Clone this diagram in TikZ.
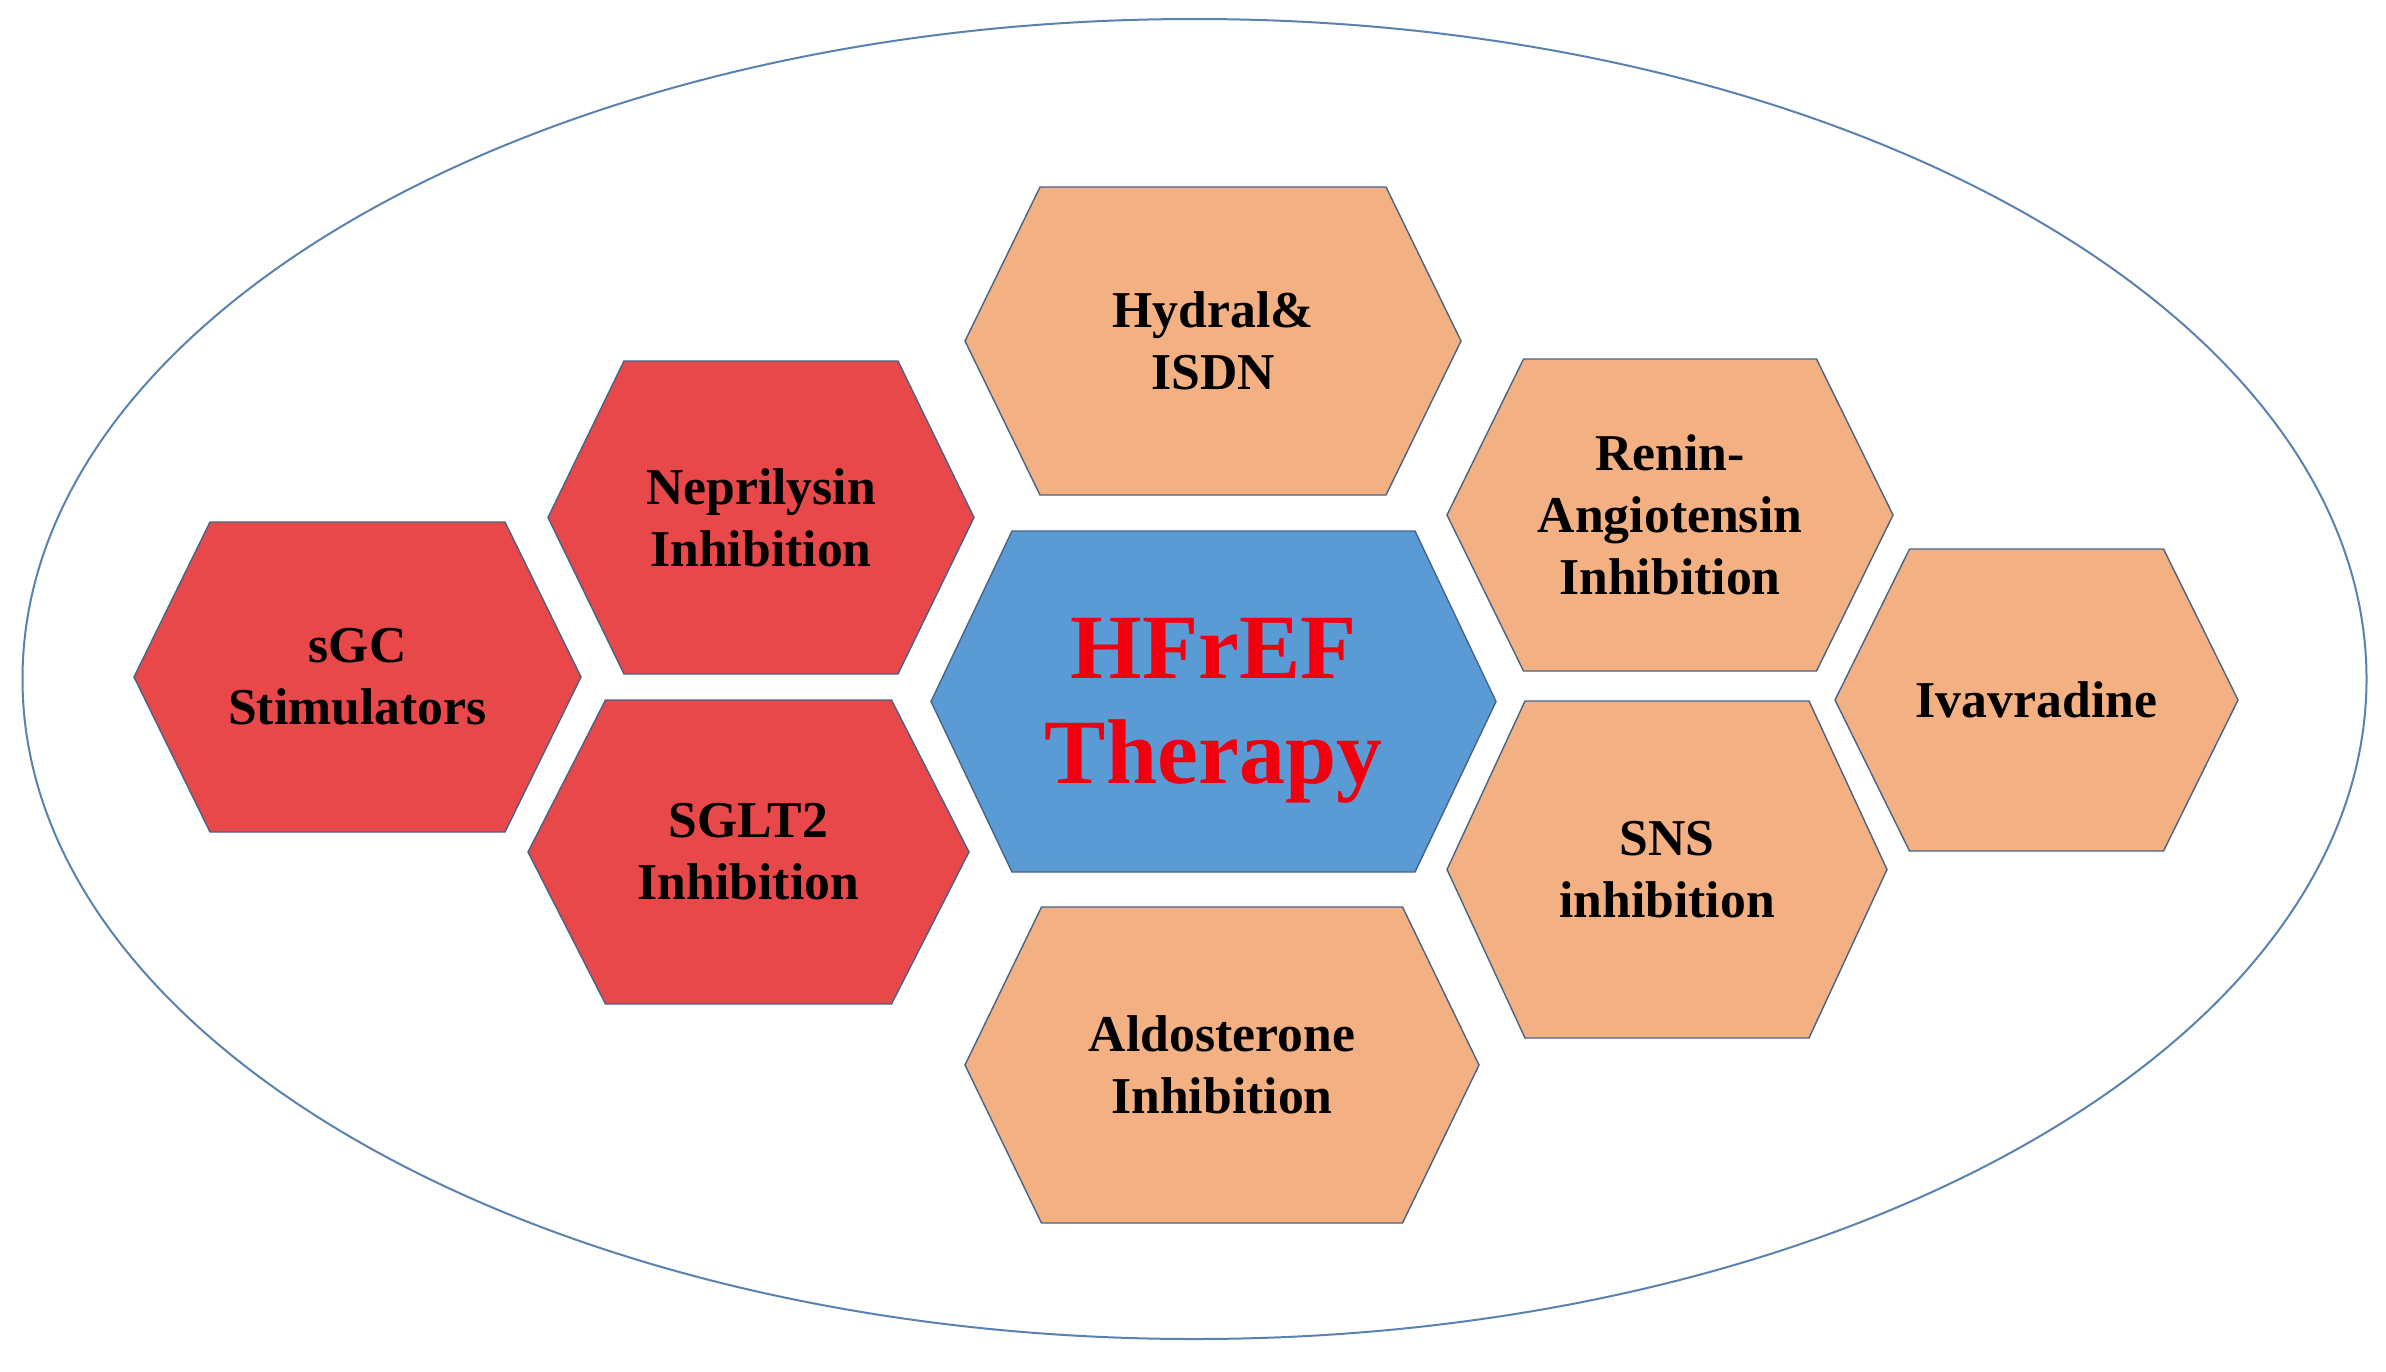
\documentclass[tikz,border=0pt]{standalone}
\usepackage{fontspec}
\setmainfont{Liberation Serif}
\definecolor{redfill}{RGB}{232,72,74}
\definecolor{peach}{RGB}{242,176,131}
\definecolor{bluefill}{RGB}{91,155,213}
\definecolor{hexline}{RGB}{70,100,135}
\definecolor{ovalline}{RGB}{90,130,175}
\definecolor{titlered}{RGB}{240,0,15}
% name, cx, cy, half width, half height, half top edge, fill, text
\newcommand{\hexcell}[8]{%
  \path[fill=#7, draw=hexline, line width=0.7pt]
    (#2-#6,#3-#5) -- (#2+#6,#3-#5) -- (#2+#4,#3) -- (#2+#6,#3+#5)
    -- (#2-#6,#3+#5) -- (#2-#4,#3) -- cycle;
  \node[lbl] (#1) at (#2,#3) {#8};%
}
\begin{document}
\begin{tikzpicture}[x=0.5pt,y=-0.5pt,
  lbl/.style={font=\bfseries\fontsize{25.85pt}{31pt}\selectfont, align=center, text=black, inner sep=0pt},
  title/.style={font=\bfseries\fontsize{46pt}{52.5pt}\selectfont, align=center, text=titlered, inner sep=0pt}]
\useasboundingbox (0,0) rectangle (2386,1371);
\fill[white] (0,0) rectangle (2386,1371);
\draw[ovalline, line width=1pt] (1194.5,679) ellipse [x radius=1172, y radius=660];

\path[fill=bluefill, draw=hexline, line width=0.7pt]
  (1012,531) -- (1415,531) -- (1496,701.5) -- (1415,872) -- (1012,872) -- (931,701.5) -- cycle;
\node[title] (hfref) at (1213.5,711) {HFrEF\\Therapy};

\hexcell{hydral}{1213}{341}{248}{154}{173}{peach}{Hydral\&\\ISDN}
\hexcell{nep}{761}{517.5}{213}{156.5}{137}{redfill}{Neprilysin\\Inhibition}
\hexcell{sgc}{357.5}{677}{223.5}{155}{147.5}{redfill}{sGC\\Stimulators}
\hexcell{sglt}{748.5}{852}{220.5}{152}{143}{redfill}{SGLT2\\Inhibition}
\hexcell{renin}{1670}{515}{223}{156}{146.5}{peach}{Renin-\\Angiotensin\\Inhibition}
\hexcell{ivab}{2036.5}{700}{201.5}{151}{127}{peach}{Ivavradine}
\hexcell{sns}{1667}{869.5}{220}{168.5}{142}{peach}{SNS\\inhibition}
\hexcell{aldo}{1222}{1065}{257}{158}{180.5}{peach}{Aldosterone\\Inhibition}
\end{tikzpicture}
\end{document}
